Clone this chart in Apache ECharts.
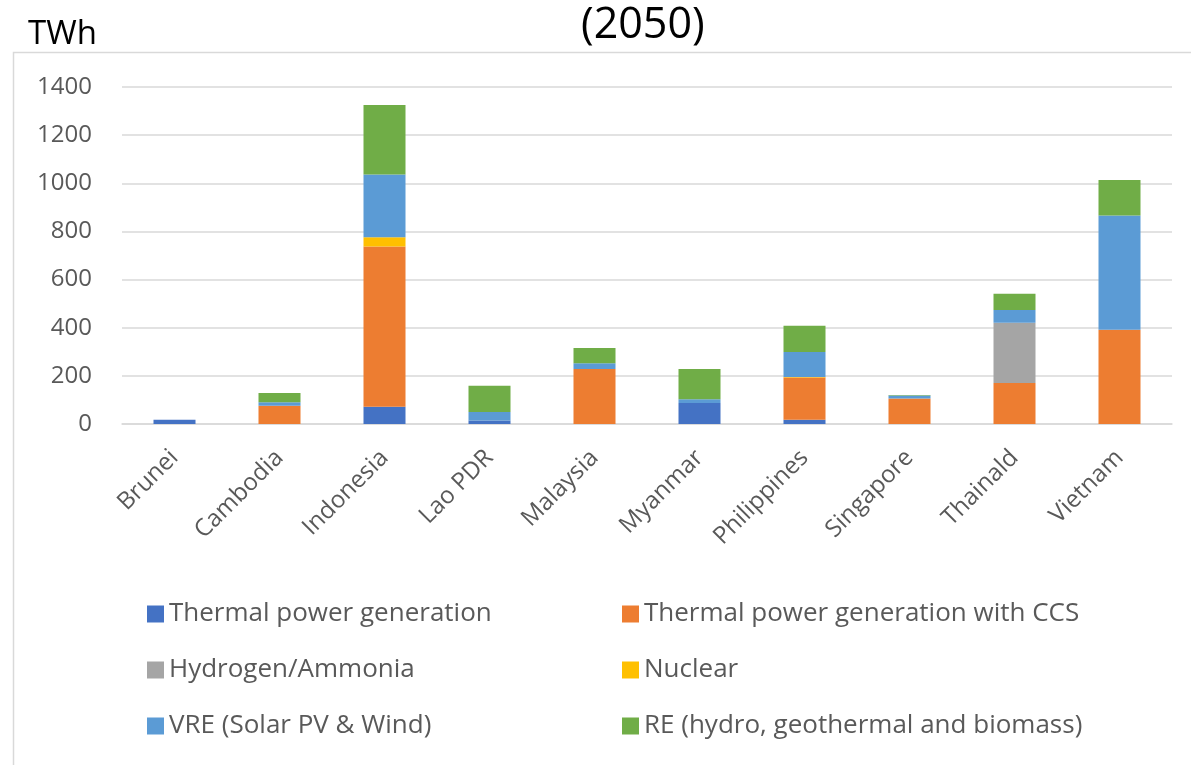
<!DOCTYPE html>
<html>
<head>
<meta charset="utf-8">
<script src="https://cdn.jsdelivr.net/npm/echarts@6/dist/echarts.min.js"></script>
<style>
html,body{margin:0;padding:0;background:#fff;}
#chart{width:1191px;height:765px;}
</style>
</head>
<body>
<div id="chart"></div>
<script>
const categories = ['Brunei','Cambodia','Indonesia','Lao PDR','Malaysia','Myanmar','Philippines','Singapore','Thainald','Vietnam'];
const yTicks = [0,200,400,600,800,1000,1200,1400];
const thermal   = [18, 0, 72, 15, 0, 87, 18, 0, 0, 0];
const thermalCCS= [0, 76, 665, 0, 228, 0, 175, 106, 170, 392];
const hydrogen  = [0, 0, 0, 0, 0, 0, 0, 0, 251, 0];
const nuclear   = [0, 0, 39, 0, 0, 0, 2, 0, 0, 0];
const vre       = [0, 14, 260, 35, 24, 16, 104, 12, 53, 474];
const re        = [0, 39, 289, 109, 64, 125, 109, 2, 67, 148];

const seriesDefs = [
  {name:'Thermal power generation', data:thermal, color:'#4472C4'},
  {name:'Thermal power generation with CCS', data:thermalCCS, color:'#ED7D31'},
  {name:'Hydrogen/Ammonia', data:hydrogen, color:'#A5A5A5'},
  {name:'Nuclear', data:nuclear, color:'#FFC000'},
  {name:'VRE (Solar PV & Wind)', data:vre, color:'#5B9BD5'},
  {name:'RE (hydro, geothermal and biomass)', data:re, color:'#70AD47'}
];

const chart = echarts.init(document.getElementById('chart'));
const font = '"Open Sans", "Noto Sans", sans-serif';
const legendText = {fontFamily:font, fontSize:26, color:'#595959'};
chart.setOption({
  animation:false,
  textStyle:{fontFamily:font},
  graphic:[
    {type:'rect', left:11, top:50, shape:{x:0,y:0,width:1200,height:800}, style:{fill:'none', stroke:'#d9d9d9', lineWidth:1.5}, silent:true},
    {type:'text', left:28, top:18, style:{text:'TWh', fontFamily:font, fontSize:33, fill:'#000'}},
    {type:'text', left:581, top:4, style:{text:'(2050)', fontFamily:font, fontSize:43, fill:'#000'}}
  ],
  grid:{left:122, right:19, top:87, bottom:341},
  legend:[
    {left:142, top:596, orient:'vertical', itemWidth:17, itemHeight:17, itemGap:30, icon:'rect',
     textStyle:legendText, data:[seriesDefs[0].name, seriesDefs[2].name, seriesDefs[4].name]},
    {left:617, top:596, orient:'vertical', itemWidth:17, itemHeight:17, itemGap:30, icon:'rect',
     textStyle:legendText, data:[seriesDefs[1].name, seriesDefs[3].name, seriesDefs[5].name]}
  ],
  xAxis:{
    type:'category', data:categories,
    axisLine:{show:true, lineStyle:{color:'#d9d9d9', width:1.5}},
    axisTick:{show:false},
    axisLabel:{rotate:45, fontSize:24, color:'#595959', fontFamily:font, margin:30, interval:0}
  },
  yAxis:{
    type:'value', min:yTicks[0], max:yTicks[yTicks.length-1], interval:200,
    axisLine:{show:false}, axisTick:{show:false},
    splitLine:{lineStyle:{color:'#d9d9d9', width:1.5}},
    axisLabel:{fontSize:24, color:'#595959', fontFamily:font, margin:30, formatter:v=>String(v)}
  },
  series: seriesDefs.map(s => ({
    name:s.name, type:'bar', stack:'total', data:s.data, barWidth:42,
    itemStyle:{color:s.color}
  }))
});
</script>
</body>
</html>
